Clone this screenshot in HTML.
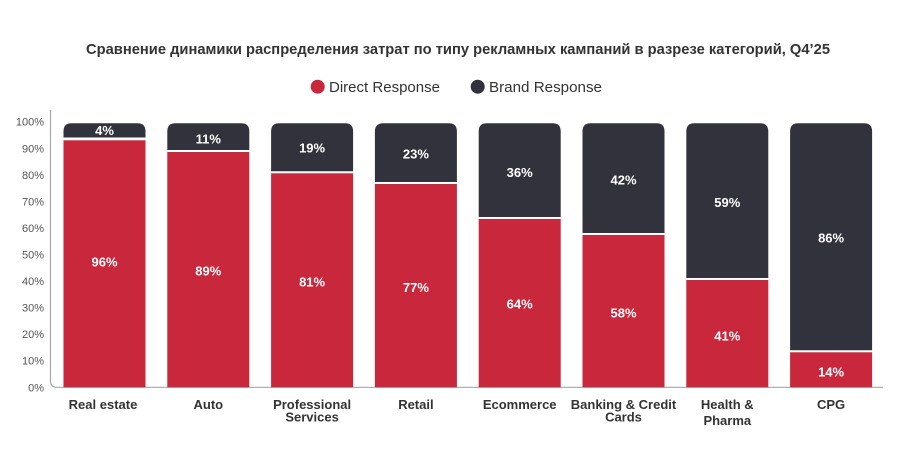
<!DOCTYPE html>
<html><head><meta charset="utf-8">
<style>
html,body{margin:0;padding:0;background:#fff;}
svg{display:block;}
text{font-family:"Liberation Sans","Noto Sans CJK SC",sans-serif;}
</style></head>
<body>
<svg width="900" height="468" viewBox="0 0 900 468" xmlns="http://www.w3.org/2000/svg">
<rect width="900" height="468" fill="#fff"/>
<text x="458" y="54" text-anchor="middle" font-size="15" font-weight="bold" fill="#333" textLength="744" lengthAdjust="spacingAndGlyphs">Сравнение динамики распределения затрат по типу рекламных кампаний в разрезе категорий, Q4’25</text>
<circle cx="317.7" cy="86.7" r="7" fill="#c9273c"/>
<text x="329" y="92" font-size="15" fill="#333" textLength="111" lengthAdjust="spacingAndGlyphs">Direct Response</text>
<circle cx="477.7" cy="86.7" r="7" fill="#32323c"/>
<text x="489" y="92" font-size="15" fill="#333" textLength="113" lengthAdjust="spacingAndGlyphs">Brand Response</text>
<g font-size="11" fill="#555" text-anchor="end">
<text x="44" y="125.7">100%</text>
<text x="44" y="152.3">90%</text>
<text x="44" y="178.8">80%</text>
<text x="44" y="205.4">70%</text>
<text x="44" y="231.9">60%</text>
<text x="44" y="258.5">50%</text>
<text x="44" y="285">40%</text>
<text x="44" y="311.6">30%</text>
<text x="44" y="338.1">20%</text>
<text x="44" y="364.7">10%</text>
<text x="44" y="391.3">0%</text>
</g>
<path d="M50.5 110 V381 Q50.5 387.3 56.8 387.3 H883" fill="none" stroke="#a8a8a8" stroke-width="1.2"/>
<g>
<path d="M63.5 137.5 V131.3 Q63.5 123.3 71.5 123.3 H137.5 Q145.5 123.3 145.5 131.3 V137.5 Z" fill="#32323c"/>
<rect x="63.5" y="140.3" width="82" height="247" fill="#c9273c"/>
<path d="M167.3 150 V131.3 Q167.3 123.3 175.3 123.3 H241.3 Q249.3 123.3 249.3 131.3 V150 Z" fill="#32323c"/>
<rect x="167.3" y="152" width="82" height="235.3" fill="#c9273c"/>
<path d="M271.1 171.3 V131.3 Q271.1 123.3 279.1 123.3 H345.1 Q353.1 123.3 353.1 131.3 V171.3 Z" fill="#32323c"/>
<rect x="271.1" y="173.3" width="82" height="214" fill="#c9273c"/>
<path d="M374.9 182 V131.3 Q374.9 123.3 382.9 123.3 H448.9 Q456.9 123.3 456.9 131.3 V182 Z" fill="#32323c"/>
<rect x="374.9" y="184" width="82" height="203.3" fill="#c9273c"/>
<path d="M478.7 217 V131.3 Q478.7 123.3 486.7 123.3 H552.7 Q560.7 123.3 560.7 131.3 V217 Z" fill="#32323c"/>
<rect x="478.7" y="219" width="82" height="168.3" fill="#c9273c"/>
<path d="M582.5 233 V131.3 Q582.5 123.3 590.5 123.3 H656.5 Q664.5 123.3 664.5 131.3 V233 Z" fill="#32323c"/>
<rect x="582.5" y="235" width="82" height="152.3" fill="#c9273c"/>
<path d="M686.3 278 V131.3 Q686.3 123.3 694.3 123.3 H760.3 Q768.3 123.3 768.3 131.3 V278 Z" fill="#32323c"/>
<rect x="686.3" y="280" width="82" height="107.3" fill="#c9273c"/>
<path d="M790.1 350.3 V131.3 Q790.1 123.3 798.1 123.3 H864.1 Q872.1 123.3 872.1 131.3 V350.3 Z" fill="#32323c"/>
<rect x="790.1" y="352.3" width="82" height="35" fill="#c9273c"/>
</g>
<g font-size="13" font-weight="bold" fill="#fff" text-anchor="middle">
<text x="104.5" y="135.2">4%</text>
<text x="104.5" y="266.5">96%</text>
<text x="208.3" y="143.5">11%</text>
<text x="208.3" y="275.5">89%</text>
<text x="312.1" y="152.5">19%</text>
<text x="312.1" y="286.5">81%</text>
<text x="415.9" y="158.5">23%</text>
<text x="415.9" y="292">77%</text>
<text x="519.7" y="176.8">36%</text>
<text x="519.7" y="308.5">64%</text>
<text x="623.5" y="184.5">42%</text>
<text x="623.5" y="317.5">58%</text>
<text x="727.3" y="207">59%</text>
<text x="727.3" y="340.5">41%</text>
<text x="831.1" y="242.5">86%</text>
<text x="831.1" y="376.5">14%</text>
</g>
<g font-size="13" font-weight="bold" fill="#333" text-anchor="middle">
<text x="103" y="409">Real estate</text>
<text x="208.3" y="409">Auto</text>
<text x="312.1" y="409">Professional</text>
<text x="312.1" y="421.5">Services</text>
<text x="415.9" y="409">Retail</text>
<text x="519.7" y="409">Ecommerce</text>
<text x="623.5" y="409">Banking &amp; Credit</text>
<text x="623.5" y="421.5">Cards</text>
<text x="727.3" y="409">Health &amp;</text>
<text x="727.3" y="425">Pharma</text>
<text x="831.1" y="409">CPG</text>
</g>
</svg>
</body></html>
